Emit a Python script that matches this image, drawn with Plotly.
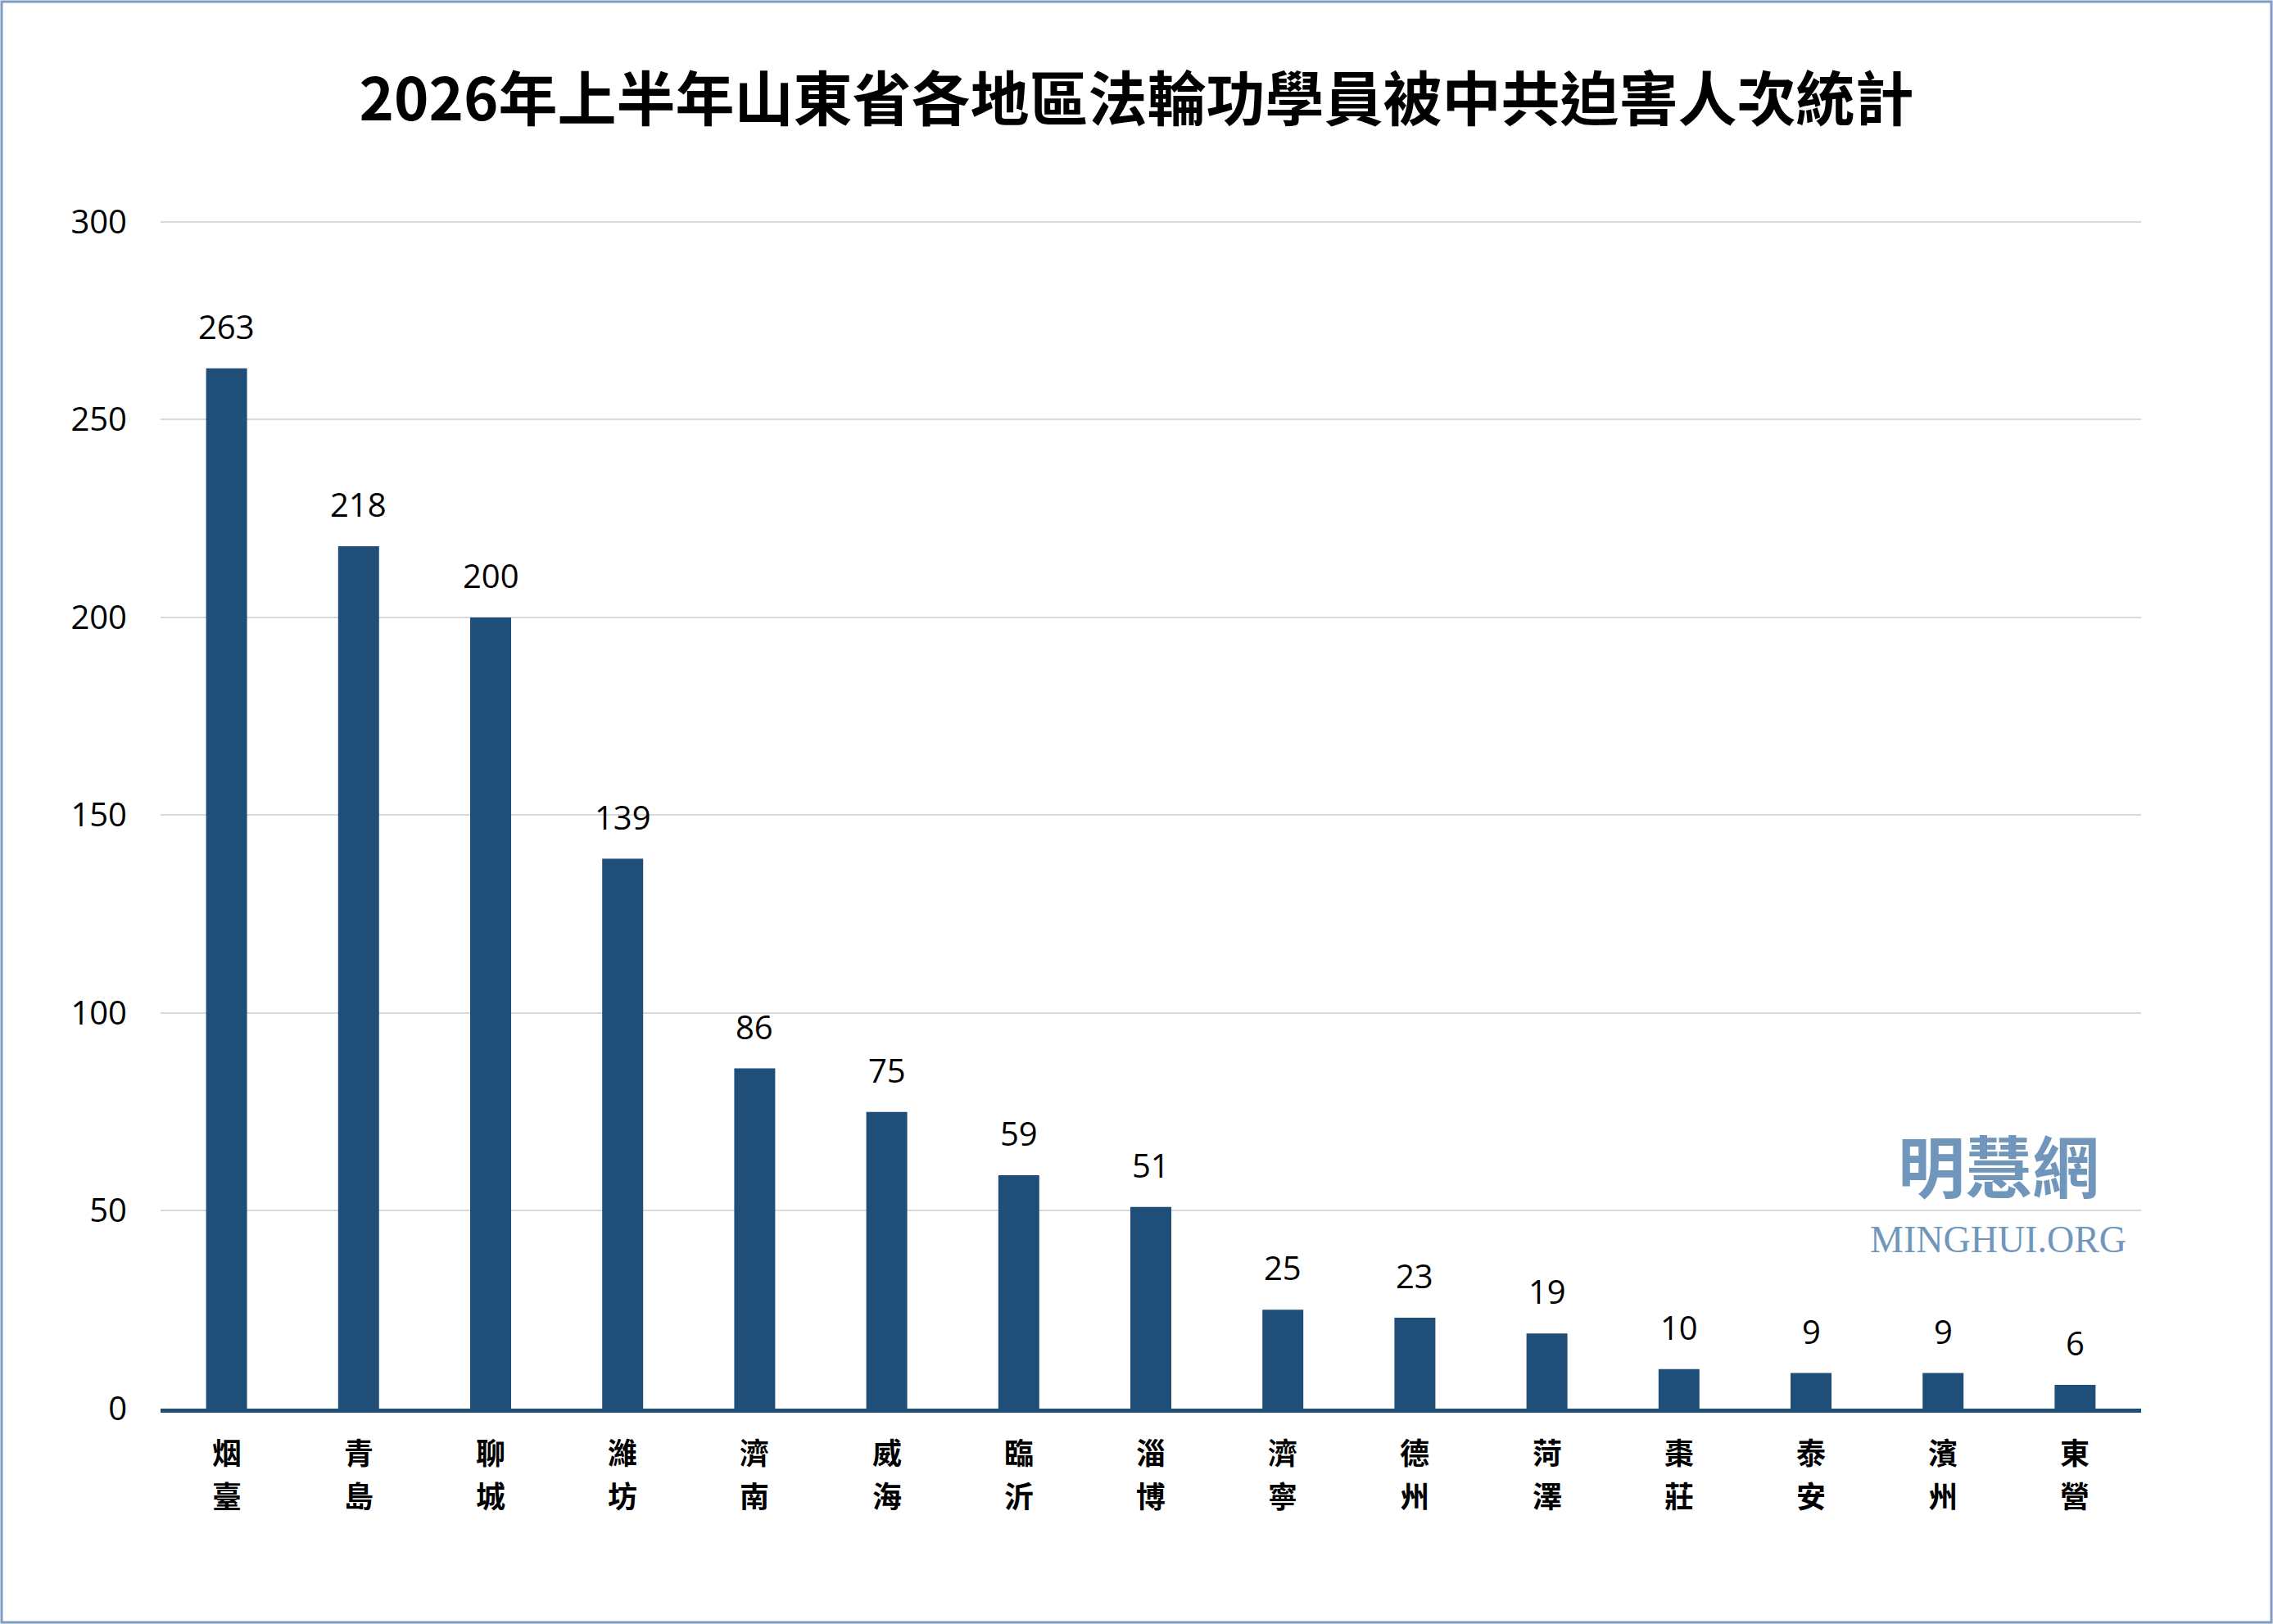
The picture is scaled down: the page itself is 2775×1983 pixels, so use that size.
import plotly.graph_objects as go

# regions (two characters stacked) and persecution counts, first half 2026
regions = ["烟臺", "青島", "聊城", "濰坊", "濟南", "威海", "臨沂", "淄博",
           "濟寧", "德州", "菏澤", "棗莊", "泰安", "濱州", "東營"]
counts = [263, 218, 200, 139, 86, 75, 59, 51, 25, 23, 19, 10, 9, 9, 6]
y_ticks = [0, 50, 100, 150, 200, 250, 300]

title = "2026年上半年山東省各地區法輪功學員被中共迫害人次統計"
bar_color = "#1F4E79"
num_font = "Open Sans, Noto Sans, sans-serif"
cjk_font = "Noto Sans CJK TC, Noto Sans CJK SC, sans-serif"

W, H = 2775, 1983
ml, mr, mt, mb = 196, 161, 269, 263

fig = go.Figure()
fig.add_trace(go.Bar(
    x=regions, y=counts,
    marker=dict(color=bar_color, line=dict(width=0)),
    width=0.31,
    hoverinfo="x+y",
))

# value labels above the bars
for r, v in zip(regions, counts):
    fig.add_annotation(x=r, y=v, text=str(v), showarrow=False,
                       yanchor="bottom", yshift=22,
                       font=dict(family=num_font, size=40, color="black"))

# category labels written vertically, one character per row
for r in regions:
    for i, ch in enumerate(r):
        fig.add_annotation(x=r, y=0, yref="paper", text="<b>" + ch + "</b>",
                           showarrow=False, yanchor="middle",
                           yshift=-52 - 53 * i,
                           font=dict(family=cjk_font, size=36, color="black"))

# watermark
fig.add_annotation(xref="paper", yref="paper", x=0.928, y=0.164,
                   text="<b>明慧網</b>", showarrow=False, xanchor="center", yanchor="bottom",
                   font=dict(family=cjk_font, size=82, color="#7097BB"))
fig.add_annotation(xref="paper", yref="paper", x=0.928, y=0.161,
                   text="MINGHUI.ORG", showarrow=False, xanchor="center", yanchor="top",
                   font=dict(family="Liberation Serif, serif", size=46, color="#7097BB"))

# thin border around the whole picture
pw, ph = W - ml - mr, H - mt - mb
fig.add_shape(type="rect", xref="paper", yref="paper",
              x0=-(ml - 2) / pw, x1=1 + (mr - 2) / pw,
              y0=-(mb - 2) / ph, y1=1 + (mt - 2) / ph,
              line=dict(color="#7F9CC0", width=3), layer="below")

fig.update_layout(
    width=W, height=H,
    margin=dict(l=ml, r=mr, t=mt, b=mb),
    paper_bgcolor="white", plot_bgcolor="white",
    showlegend=False,
    title=dict(text="<b>" + title + "</b>", x=0.5, xanchor="center",
               y=1 - 122 / H, yanchor="middle",
               font=dict(family=cjk_font, size=72, color="black")),
    xaxis=dict(showline=True, linecolor=bar_color, linewidth=5,
               ticks="", showticklabels=False, showgrid=False),
    yaxis=dict(range=[0, 300.4], tickvals=y_ticks, showline=False, zeroline=False,
               gridcolor="#D9D9D9", gridwidth=2, ticks="",
               tickfont=dict(family=num_font, size=40, color="black"),
               ticklabelstandoff=40),
    bargap=0.69,
)

fig.write_html("out.html", config={"displayModeBar": False},
               post_script="document.body.style.margin='0';")
